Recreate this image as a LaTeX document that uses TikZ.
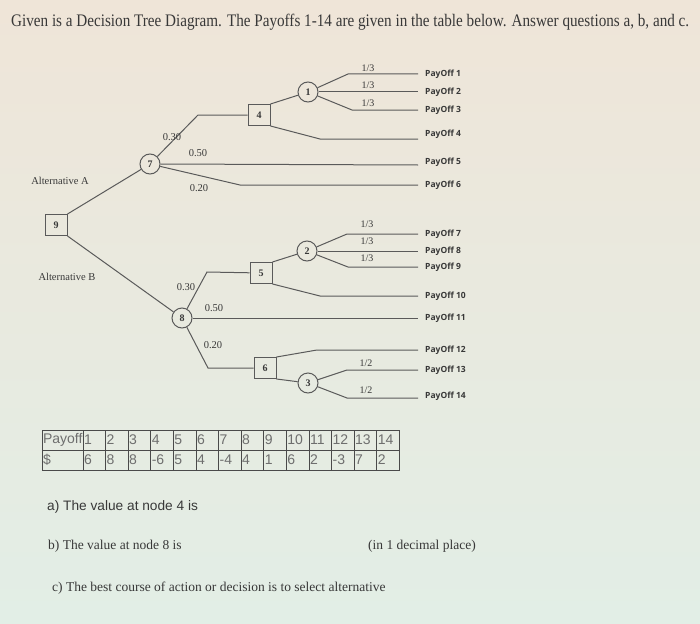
\documentclass[tikz,border=0pt]{standalone}
\usepackage{fontspec}
\setmainfont{Liberation Serif}
\newfontfamily\arialfont{Liberation Sans}
\newfontfamily\payfont{Open Sans}
\usetikzlibrary{positioning}
\definecolor{inkgray}{HTML}{383838}
\definecolor{linegray}{HTML}{5A5A5A}
\definecolor{tablegray}{HTML}{4A4A4A}
\definecolor{bgtop}{HTML}{EFE5D8}
\definecolor{bgbottom}{HTML}{E2EEE6}
\tikzset{
  chance/.style={draw=linegray, circle, line width=1pt, minimum size=20pt, inner sep=0pt, text=inkgray, font=\bfseries\fontsize{10}{10}\selectfont},
  decision/.style={draw=linegray, rectangle, line width=1pt, minimum width=22pt, minimum height=21pt, inner sep=0pt, text=inkgray, font=\bfseries\fontsize{10}{10}\selectfont},
  branch/.style={draw=linegray, line width=1pt},
  prob/.style={text=inkgray, inner sep=0pt, font=\fontsize{10.5}{11}\selectfont},
  frac/.style={text=inkgray, inner sep=0pt, font=\fontsize{10}{10}\selectfont},
  payoff/.style={text=inkgray, inner sep=0pt, anchor=west, font=\payfont\bfseries\fontsize{8.5}{9}\selectfont},
  altlabel/.style={text=inkgray, inner sep=0pt, font=\fontsize{10.5}{11}\selectfont},
  cell/.style={draw=tablegray, line width=0.9pt, minimum height=20pt, text width=20.6pt, inner xsep=1pt, inner ysep=0pt, align=left, text=tablegray!80, font=\arialfont\fontsize{14}{14}\selectfont},
  question/.style={text=inkgray, inner sep=0pt, anchor=base west, font=\fontsize{13.5}{14}\selectfont}
}
\begin{document}
\begin{tikzpicture}[x=1pt, y=-1pt]
  \useasboundingbox (0,0) rectangle (700,623);
  \fill[top color=bgtop, bottom color=bgbottom] (0,0) rectangle (700,623);

  \node[inner sep=0pt, anchor=base west, text=inkgray] (title) at (11,27) {\resizebox{678pt}{12.4pt}{\fontsize{18}{20}\selectfont Given is a Decision Tree Diagram. The Payoffs 1-14 are given in the table below. Answer questions a, b, and c.}};

  \node[decision] (d9) at (56,225) {9};
  \node[chance] (c7) at (150,164) {7};
  \node[chance] (c8) at (182,318) {8};
  \node[decision] (d4) at (259,115) {4};
  \node[decision] (d5) at (261,273) {5};
  \node[decision] (d6) at (265,368) {6};
  \node[chance] (c1) at (308,92) {1};
  \node[chance] (c2) at (307,251) {2};
  \node[chance] (c3) at (308,383) {3};

  \node[altlabel] (altA) at (60,181) {Alternative A};
  \node[altlabel] (altB) at (67,277) {Alternative B};

  \coordinate (b74) at (198,115);
  \coordinate (b76) at (240,185);
  \coordinate (b44) at (320,139);
  \coordinate (b11) at (348,74);
  \coordinate (b13) at (352,110);
  \coordinate (b85) at (207,272);
  \coordinate (b86) at (208,368);
  \coordinate (b510) at (320,296);
  \coordinate (b27) at (347,234);
  \coordinate (b29) at (348,267);
  \coordinate (b612) at (317,350);
  \coordinate (b313) at (347,370);
  \coordinate (b314) at (347,398);

  \coordinate (e1) at (418,74);
  \coordinate (e2) at (418,92);
  \coordinate (e3) at (418,110);
  \coordinate (e4) at (418,139);
  \coordinate (e5) at (418,165);
  \coordinate (e6) at (418,185);
  \coordinate (e7) at (418,234);
  \coordinate (e8) at (418,251);
  \coordinate (e9) at (418,267);
  \coordinate (e10) at (418,296);
  \coordinate (e11) at (418,318);
  \coordinate (e12) at (418,350);
  \coordinate (e13) at (418,370);
  \coordinate (e14) at (418,398);

  \draw[branch] (d9.north east) -- (c7);
  \draw[branch] (d9.south east) -- (c8);
  \draw[branch] (c7) -- (b74) -- (d4);
  \draw[branch] (c7.east) -- (e5);
  \draw[branch] (c7) -- (b76) -- (e6);
  \draw[branch] (d4.north east) -- (c1);
  \draw[branch] (d4.south east) -- (b44) -- (e4);
  \draw[branch] (c1) -- (b11) -- (e1);
  \draw[branch] (c1.east) -- (e2);
  \draw[branch] (c1) -- (b13) -- (e3);
  \draw[branch] (c8) -- (b85) -- (d5);
  \draw[branch] (c8.east) -- (e11);
  \draw[branch] (c8) -- (b86) -- (d6);
  \draw[branch] (d5.north east) -- (c2);
  \draw[branch] (d5.south east) -- (b510) -- (e10);
  \draw[branch] (c2) -- (b27) -- (e7);
  \draw[branch] (c2.east) -- (e8);
  \draw[branch] (c2) -- (b29) -- (e9);
  \draw[branch] (d6.north east) -- (b612) -- (e12);
  \draw[branch] (d6.south east) -- (c3);
  \draw[branch] (c3) -- (b313) -- (e13);
  \draw[branch] (c3) -- (b314) -- (e14);

  \node[prob] (p74) at (172,137) {0.30};
  \node[prob] (p75) at (198,153) {0.50};
  \node[prob] (p76) at (199,188) {0.20};
  \node[prob] (p85) at (186,287) {0.30};
  \node[prob] (p811) at (214,308) {0.50};
  \node[prob] (p86) at (213,345) {0.20};
  \node[frac] (q11) at (368,68) {1/3};
  \node[frac] (q12) at (368,85) {1/3};
  \node[frac] (q13) at (368,103) {1/3};
  \node[frac] (q27) at (367,224) {1/3};
  \node[frac] (q28) at (367,241) {1/3};
  \node[frac] (q29) at (367,258) {1/3};
  \node[frac] (q313) at (366,363) {1/2};
  \node[frac] (q314) at (366,390) {1/2};

  \node[payoff, right=7pt of e1] (po1) {PayOff 1};
  \node[payoff, right=7pt of e2] (po2) {PayOff 2};
  \node[payoff, right=7pt of e3] (po3) {PayOff 3};
  \node[payoff, right=7pt of e4, yshift=5pt] (po4) {PayOff 4};
  \node[payoff, right=7pt of e5, yshift=3pt] (po5) {PayOff 5};
  \node[payoff, right=7pt of e6] (po6) {PayOff 6};
  \node[payoff, right=7pt of e7] (po7) {PayOff 7};
  \node[payoff, right=7pt of e8] (po8) {PayOff 8};
  \node[payoff, right=7pt of e9] (po9) {PayOff 9};
  \node[payoff, right=7pt of e10] (po10) {PayOff 10};
  \node[payoff, right=7pt of e11] (po11) {PayOff 11};
  \node[payoff, right=7pt of e12] (po12) {PayOff 12};
  \node[payoff, right=7pt of e13] (po13) {PayOff 13};
  \node[payoff, right=7pt of e14, yshift=2pt] (po14) {PayOff 14};

  \node[cell, text width=39pt] (hpay) at (62.5,440) {Payoff};
  \node[cell, text width=39pt] (hcash) at (62.5,460) {\$};
  \foreach \v [count=\i] in {6,8,8,-6,5,4,-4,4,1,6,2,-3,7,2} {
    \node[cell] (h\i) at ({83+22.6*\i-11.3},440) {\i};
    \node[cell] (s\i) at ({83+22.6*\i-11.3},460) {\v};
  }

  \node[question, font=\arialfont\fontsize{13.7}{14}\selectfont] (qa) at (47,510) {a) The value at node 4 is};
  \node[question] (qb) at (48,549) {b) The value at node 8 is};
  \node[question] (qbnote) at (368,549) {(in 1 decimal place)};
  \node[question] (qc) at (52,591) {c) The best course of action or decision is to select alternative};
\end{tikzpicture}
\end{document}
